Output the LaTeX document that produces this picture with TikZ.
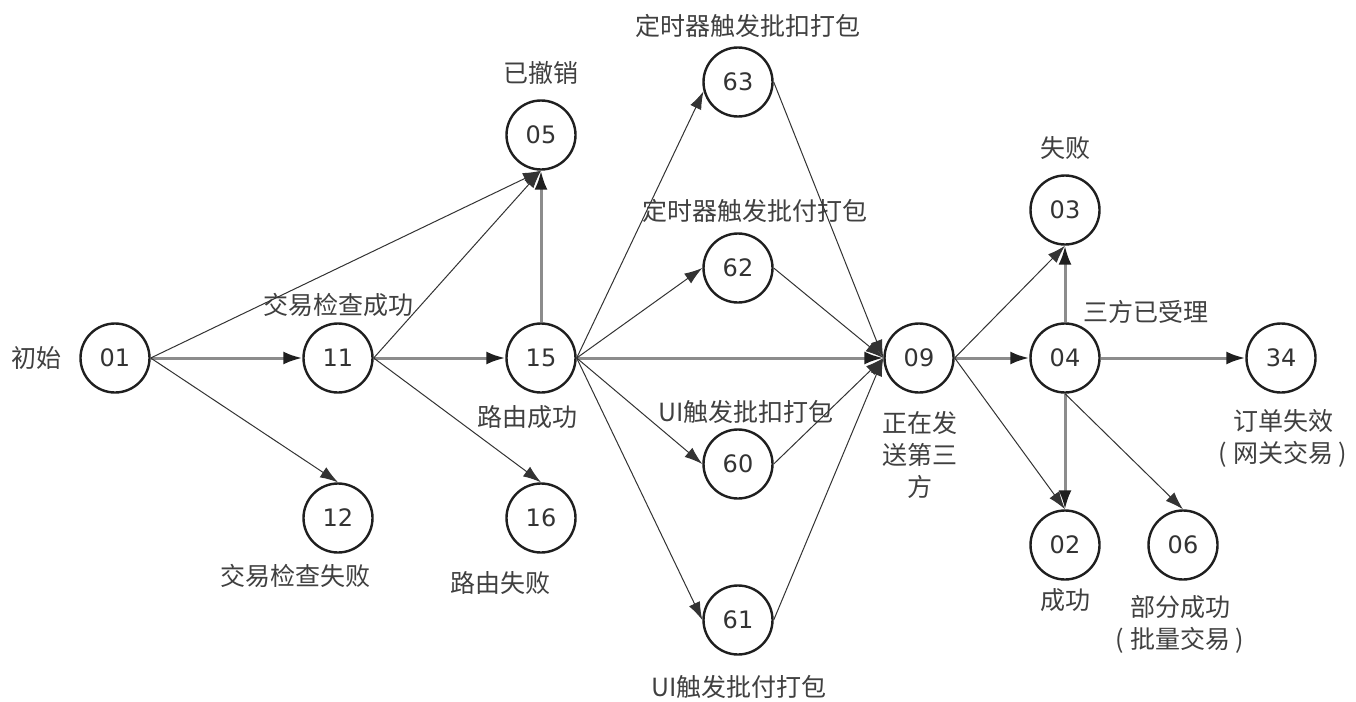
\documentclass[tikz,border=0pt]{standalone}
\usepackage{fontspec}
\setmainfont{DejaVu Sans}
\newfontfamily\cjk{Noto Sans CJK SC}
\usetikzlibrary{arrows.meta}
\tikzset{
  state/.style={circle,draw=black!88,line width=2.4pt,minimum size=69pt,inner sep=0pt,
    text=black!80,font=\fontsize{24}{24}\selectfont},
  lbl/.style={text=black!75,align=center,font=\cjk\fontsize{25}{32}\selectfont},
  flow/.style={draw=black!80,line width=1pt,-{Latex[length=18pt,width=12pt]}},
  mainflow/.style={draw=black!45,line width=3pt,-{Latex[length=19pt,width=13pt,color=black!88]}}
}
\begin{document}
\begin{tikzpicture}[x=1pt,y=-1pt]
  \useasboundingbox[fill=white] (0,0) rectangle (1356,701);
  % states
  \node[state] (s01) at (115,358) {01};
  \node[state] (s11) at (338,358) {11};
  \node[state] (s12) at (338,518) {12};
  \node[state] (s05) at (541,135) {05};
  \node[state] (s15) at (541,358) {15};
  \node[state] (s16) at (541,518) {16};
  \node[state] (s63) at (738,82) {63};
  \node[state] (s62) at (738,268) {62};
  \node[state] (s60) at (738,464) {60};
  \node[state] (s61) at (738,620) {61};
  \node[state] (s09) at (919,358) {09};
  \node[state] (s03) at (1065,210) {03};
  \node[state] (s04) at (1065,358) {04};
  \node[state] (s02) at (1065,545) {02};
  \node[state] (s06) at (1183,545) {06};
  \node[state] (s34) at (1281,358) {34};
  % texts
  \node[lbl] (t01) at (37,358) {初始};
  \node[lbl] (t11) at (338,305) {交易检查成功};
  \node[lbl] (t12) at (295,576) {交易检查失败};
  \node[lbl] (t05) at (541,73) {已撤销};
  \node[lbl] (t15) at (527,417) {路由成功};
  \node[lbl] (t16) at (500,583) {路由失败};
  \node[lbl] (t63) at (748,26) {定时器触发批扣打包};
  \node[lbl] (t62) at (755,211) {定时器触发批付打包};
  \node[lbl] (t60) at (746,412) {UI触发批扣打包};
  \node[lbl] (t61) at (739,687) {UI触发批付打包};
  \node[lbl] (t09) at (920,455) {正在发\\送第三\\方};
  \node[lbl] (t03) at (1065,148) {失败};
  \node[lbl] (t04) at (1146,312) {三方已受理};
  \node[lbl] (t34) at (1283,438) {订单失效\\( 网关交易 )};
  \node[lbl] (t02) at (1065,600) {成功};
  \node[lbl] (t06) at (1180,624) {部分成功\\( 批量交易 )};
  % transitions
  \draw[mainflow] (s01.east) -- (s11.west);
  \draw[flow] (s01.east) -- (s05.south);
  \draw[flow] (s01.east) -- (s12.north);
  \draw[mainflow] (s11.east) -- (s15.west);
  \draw[flow] (s11.east) -- (s05.south);
  \draw[flow] (s11.east) -- (s16.north);
  \draw[mainflow] (s15.north) -- (s05.south);
  \draw[mainflow] (s15.east) -- (s09.west);
  \draw[flow] (s15.east) -- (s63.195);
  \draw[flow] (s15.east) -- (s62.west);
  \draw[flow] (s15.east) -- (s60.west);
  \draw[flow] (s15.east) -- (s61.west);
  \draw[flow] (s63.east) -- (s09.west);
  \draw[flow] (s62.east) -- (s09.west);
  \draw[flow] (s60.east) -- (s09.west);
  \draw[flow] (s61.east) -- (s09.west);
  \draw[mainflow] (s09.east) -- (s04.west);
  \draw[flow] (s09.east) -- (s03.south);
  \draw[flow] (s09.east) -- (s02.north);
  \draw[mainflow] (s04.north) -- (s03.south);
  \draw[mainflow] (s04.east) -- (s34.west);
  \draw[mainflow] (s04.south) -- (s02.north);
  \draw[flow] (s04.south) -- (s06.north);
\end{tikzpicture}
\end{document}
